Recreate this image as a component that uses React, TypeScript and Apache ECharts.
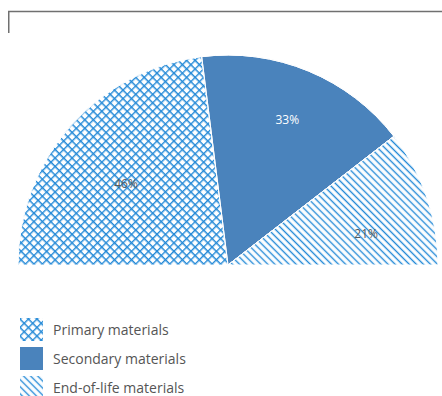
import { useEffect, useRef } from 'react';
import * as echarts from 'echarts';

const categories = ['Primary materials', 'Secondary materials', 'End-of-life materials'];
const shares = [46, 33, 21];

const PATTERN_BLUE = '#2389d7';
const SOLID_BLUE = '#4a83bc';

const crossDecal = {
  symbol: 'path://M0 0 L6 0 L6 1.4 L1.4 1.4 L1.4 6 L0 6 Z',
  symbolSize: 1,
  dashArrayX: [6, 0],
  dashArrayY: [6, 0],
  rotation: Math.PI / 4,
  color: PATTERN_BLUE,
  backgroundColor: 'rgba(0,0,0,0)',
};

const hatchDecal = {
  symbol: 'path://M0 0 L5 0 L5 1.4 L0 1.4 Z',
  symbolSize: 1,
  dashArrayX: [5, 0],
  dashArrayY: [5, 0],
  rotation: Math.PI / 4,
  color: PATTERN_BLUE,
  backgroundColor: 'rgba(0,0,0,0)',
};

export default function App() {
  const ref = useRef<HTMLDivElement>(null);
  useEffect(() => {
    if (!ref.current) return;
    const chart = echarts.init(ref.current, undefined, { renderer: 'svg' });
    const styles = [
      { itemStyle: { color: '#ffffff', decal: crossDecal }, label: { color: '#595959' } },
      { itemStyle: { color: SOLID_BLUE, decal: { symbol: 'none' } }, label: { color: '#ffffff' } },
      { itemStyle: { color: '#ffffff', decal: hatchDecal }, label: { color: '#595959' } },
    ];
    const labelShift: [number, number][] = [[-21, -10], [18, -46], [36, 3]];
    const option: any = {
      animation: false,
      backgroundColor: '#ffffff',
      legend: {
        orient: 'vertical',
        left: 20,
        top: 318,
        width: 300,
        height: 200,
        padding: 0,
        itemWidth: 23,
        itemHeight: 23,
        itemGap: 6,
        icon: 'rect',
        selectedMode: false,
        itemStyle: { borderWidth: 0 },
        textStyle: {
          fontFamily: 'Open Sans',
          fontSize: 14,
          color: '#555555',
          padding: [0, 0, 0, 5],
        },
        data: categories,
      },
      graphic: [
        { type: 'line', shape: { x1: 8, y1: 11.5, x2: 442, y2: 11.5 }, style: { stroke: '#707070', lineWidth: 1.5 } },
        { type: 'line', shape: { x1: 8.75, y1: 11, x2: 8.75, y2: 33 }, style: { stroke: '#707070', lineWidth: 1.5 } },
      ],
      series: [
        {
          type: 'pie',
          center: [228, 265],
          radius: [0, 210],
          startAngle: 180,
          endAngle: 0,
          clockwise: true,
          silent: true,
          itemStyle: { borderColor: '#ffffff', borderWidth: 1 },
          label: {
            show: true,
            position: 'inside',
            formatter: '{c}%',
            fontFamily: 'Open Sans',
            fontSize: 12,
          },
          labelLine: { show: false },
          labelLayout: (p: any) => ({ dx: labelShift[p.dataIndex][0], dy: labelShift[p.dataIndex][1] }),
          emphasis: { disabled: true },
          data: categories.map((name, i) => ({ name, value: shares[i], ...styles[i] })),
        },
      ],
    };
    chart.setOption(option);
    return () => chart.dispose();
  }, []);
  return <div ref={ref} style={{ position: 'fixed', left: 0, top: 0, width: 442, height: 396 }} />;
}
